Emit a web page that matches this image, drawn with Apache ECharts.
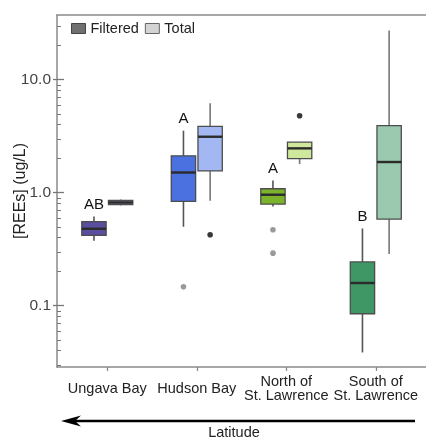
<!DOCTYPE html>
<html>
<head>
<meta charset="utf-8">
<script src="https://cdn.jsdelivr.net/npm/echarts@6/dist/echarts.min.js"></script>
<style>
    html, body { margin: 0; padding: 0; background: #fff; }
    #main { width: 426px; height: 440px; }
</style>
</head>
<body>
<div id="main"></div>
<script>
// 分组（x 轴）
var categories = ['Ungava Bay', 'Hudson Bay', 'North of\nSt. Lawrence', 'South of\nSt. Lawrence'];
var categoryIndex = [0, 1, 2, 3];

// 箱线数据: [low, Q1, median, Q3, high]
var filteredStats = [
    [0.376, 0.42, 0.48, 0.554, 0.617],
    [0.50, 0.84, 1.51, 2.12, 3.54],
    [0.756, 0.794, 0.96, 1.085, 1.285],
    [0.0386, 0.0849, 0.159, 0.244, 0.483]
];
var totalStats = [
    [0.772, 0.787, 0.82, 0.855, 0.872],
    [0.85, 1.56, 3.13, 3.86, 6.2],
    [1.795, 2.0, 2.47, 2.81, 2.81],
    [0.287, 0.585, 1.87, 3.92, 27.3]
];

// 离群点: [分组, 数值]
var filteredOutliers = [[1, 0.147], [2, 0.471], [2, 0.292]];
var totalOutliers = [[1, 0.425], [2, 4.8]];

// 显著性字母
var sigLetters = ['AB', 'A', 'A', 'B'];

// y 轴刻度
var yMajorTicks = [0.1, 1, 10];
var yMinorTicks = [0.03, 0.04, 0.05, 0.06, 0.07, 0.08, 0.09,
    0.2, 0.3, 0.4, 0.5, 0.6, 0.7, 0.8, 0.9,
    2, 3, 4, 5, 6, 7, 8, 9, 20, 30];

// 颜色
var filteredColors = ['#5a4f9e', '#4b70e0', '#7db32c', '#3e9765'];
var totalColors = ['#8c87b8', '#a3b7f2', '#d0e89b', '#9ac9af'];

var FONT = "'Liberation Sans', Arial, Helvetica, sans-serif";
var BOX_OFFSET = 0.149;   // 相对类目间距
var BOX_WIDTH = 0.272;

function toItems(stats) {
    var out = [];
    for (var i = 0; i < stats.length; i++) {
        out.push([categoryIndex[i]].concat(stats[i]));
    }
    return out;
}

function makeBoxRenderer(side, colors, whiskerColor, letters) {
    return function(params, api) {
        var cat = api.value(0);
        var c0 = api.coord([cat, 1]);
        var unit = api.coord([cat + 1, 1])[0] - c0[0];
        var cx = c0[0] + side * BOX_OFFSET * unit;
        var hw = BOX_WIDTH * unit / 2;
        var yLow = api.coord([cat, api.value(1)])[1];
        var yQ1 = api.coord([cat, api.value(2)])[1];
        var yMed = api.coord([cat, api.value(3)])[1];
        var yQ3 = api.coord([cat, api.value(4)])[1];
        var yHigh = api.coord([cat, api.value(5)])[1];
        var children = [
            { type: 'line', shape: { x1: cx, y1: yHigh, x2: cx, y2: yQ3 },
              style: { stroke: whiskerColor, lineWidth: 1.6 } },
            { type: 'line', shape: { x1: cx, y1: yQ1, x2: cx, y2: yLow },
              style: { stroke: whiskerColor, lineWidth: 1.6 } },
            { type: 'rect', shape: { x: cx - hw, y: yQ3, width: hw * 2, height: yQ1 - yQ3 },
              style: { fill: colors[params.dataIndex], stroke: '#4d4d4d', lineWidth: 1.3 } },
            { type: 'line', shape: { x1: cx - hw, y1: yMed, x2: cx + hw, y2: yMed },
              style: { stroke: '#2b2b2b', lineWidth: 2.4 } }
        ];
        if (letters) {
            children.push({
                type: 'text',
                style: {
                    x: cx, y: yHigh - 12, text: letters[params.dataIndex],
                    textAlign: 'center', textVerticalAlign: 'middle',
                    fontSize: 15, fontFamily: FONT, fill: '#111'
                }
            });
        }
        return { type: 'group', children: children };
    };
}

function makeOutlierRenderer(side, color) {
    return function(params, api) {
        var cat = api.value(0);
        var c0 = api.coord([cat, 1]);
        var unit = api.coord([cat + 1, 1])[0] - c0[0];
        var p = api.coord([cat, api.value(1)]);
        return {
            type: 'circle',
            shape: { cx: c0[0] + side * BOX_OFFSET * unit, cy: p[1], r: 2.8 },
            style: { fill: color }
        };
    };
}

var chart = echarts.init(document.getElementById('main'));

function yAxisOf(extra) {
    var base = {
        type: 'log',
        position: 'left',
        offset: 0,
        min: 0.0287,
        max: 37.4,
        splitLine: { show: false },
        axisLine: { show: false, onZero: false },
        axisLabel: { show: false }
    };
    return echarts.util.merge(base, extra, true);
}

var option = {
    animation: false,
    textStyle: { fontFamily: FONT },
    grid: { left: 57, right: 0, top: 15, bottom: 73, outerBoundsMode: 'none' },
    legend: {
        left: 71,
        top: 21,
        padding: 0,
        icon: 'rect',
        itemWidth: 14,
        itemHeight: 10,
        itemGap: 6,
        textStyle: { fontSize: 14.5, color: '#222', fontFamily: FONT },
        data: [
            { name: 'Filtered', itemStyle: { color: '#707070', borderColor: '#444', borderWidth: 1 } },
            { name: 'Total', itemStyle: { color: '#d3d3d3', borderColor: '#666', borderWidth: 1 } }
        ]
    },
    xAxis: [{
        type: 'value',
        min: -0.562,
        max: 3.561,
        splitLine: { show: false },
        axisLine: { onZero: false, lineStyle: { color: '#8a8a8a', width: 1.5 } },
        axisTick: { customValues: categoryIndex, length: 4, lineStyle: { color: '#8a8a8a', width: 1.3 } },
        axisLabel: {
            customValues: categoryIndex,
            formatter: function(v) { return categories[Math.round(v)]; },
            verticalAlign: 'middle',
            margin: 22,
            lineHeight: 14,
            fontSize: 14.5,
            color: '#222',
            fontFamily: FONT
        }
    }, {
        // 上边框
        type: 'value',
        position: 'top',
        min: 0,
        max: 1,
        splitLine: { show: false },
        axisLine: { show: true, onZero: false, lineStyle: { color: '#8a8a8a', width: 1.5 } },
        axisTick: { show: false },
        axisLabel: { show: false }
    }],
    yAxis: [
        yAxisOf({
            name: '[REEs] (ug/L)',
            nameLocation: 'middle',
            nameGap: 28,
            nameMoveOverlap: false,
            nameTextStyle: { fontSize: 16, color: '#222', fontFamily: FONT },
            axisLine: { show: true, onZero: false, lineStyle: { color: '#8a8a8a', width: 1.5 } },
            axisTick: { customValues: yMajorTicks, length: 4, lineStyle: { color: '#777', width: 1.3 } },
            axisLabel: {
                show: true,
                customValues: yMajorTicks,
                formatter: function(v) { return v < 1 ? String(v) : v.toFixed(1); },
                margin: 6,
                fontSize: 15.5,
                color: '#444',
                fontFamily: FONT
            }
        }),
        yAxisOf({
            axisTick: { inside: true, customValues: yMajorTicks, length: 7, lineStyle: { color: '#777', width: 1.3 } }
        }),
        yAxisOf({
            axisTick: { inside: true, customValues: yMinorTicks, length: 4, lineStyle: { color: '#777', width: 1 } }
        })
    ],
    series: [{
        name: 'Filtered',
        type: 'custom',
        itemStyle: { color: '#707070' },
        renderItem: makeBoxRenderer(-1, filteredColors, '#555', sigLetters),
        encode: { x: 0, y: [1, 2, 3, 4, 5] },
        data: toItems(filteredStats)
    }, {
        name: 'Total',
        type: 'custom',
        itemStyle: { color: '#d3d3d3' },
        renderItem: makeBoxRenderer(1, totalColors, '#777', null),
        encode: { x: 0, y: [1, 2, 3, 4, 5] },
        data: toItems(totalStats)
    }, {
        name: 'Filtered outliers',
        type: 'custom',
        renderItem: makeOutlierRenderer(-1, '#9a9a9a'),
        encode: { x: 0, y: 1 },
        data: filteredOutliers
    }, {
        name: 'Total outliers',
        type: 'custom',
        renderItem: makeOutlierRenderer(1, '#383838'),
        encode: { x: 0, y: 1 },
        data: totalOutliers
    }],
    graphic: [{
        // 纬度箭头
        type: 'line',
        shape: { x1: 415, y1: 421, x2: 72, y2: 421 },
        style: { stroke: '#000', lineWidth: 2.5 }
    }, {
        type: 'polygon',
        shape: { points: [[61, 421], [81, 415.5], [75, 421], [81, 426.5]] },
        style: { fill: '#000' }
    }, {
        type: 'text',
        style: {
            x: 234, y: 433, text: 'Latitude',
            textAlign: 'center', textVerticalAlign: 'middle',
            fontSize: 14.5, fontFamily: FONT, fill: '#222'
        }
    }]
};

chart.setOption(option);
</script>
</body>
</html>
